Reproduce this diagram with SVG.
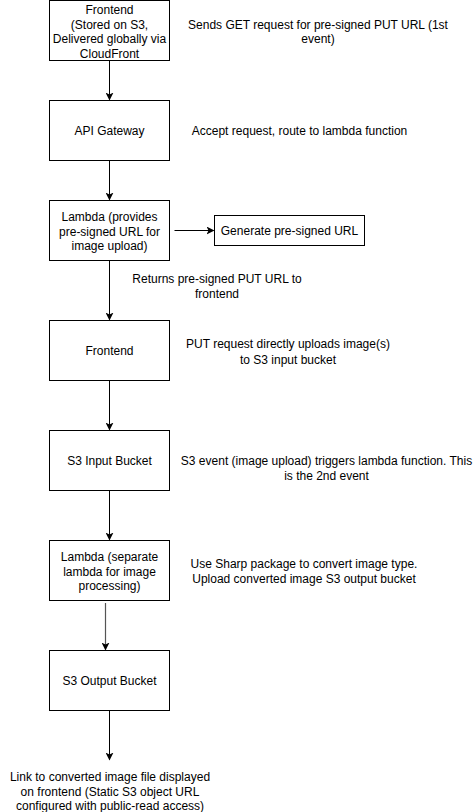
<svg xmlns="http://www.w3.org/2000/svg" width="475" height="812" viewBox="0 0 475 812">
<defs>
<style>
.box{fill:#fff;stroke:#000;stroke-width:1}
text{font-family:"Liberation Sans",Arial,sans-serif;font-size:12px;fill:#000;text-anchor:middle}
.edge{fill:none;stroke:#000;stroke-width:1}
</style>
<marker id="arr" markerWidth="8" markerHeight="8" viewBox="0 0 8 8" refX="7" refY="4" orient="auto" markerUnits="userSpaceOnUse">
<path d="M0,0 L8,4 L0,8 L2,4 Z" fill="#000"/>
</marker>
</defs>
<rect width="475" height="812" fill="#fff"/>
<g id="connectors">
<path class="edge" d="M109.5,60.5 V99.5" marker-end="url(#arr)"/>
<path class="edge" d="M109.5,160.5 V199.5" marker-end="url(#arr)"/>
<path class="edge" d="M174.5,230.5 H213.5" marker-end="url(#arr)"/>
<path class="edge" d="M109.5,260.5 V319.5" marker-end="url(#arr)"/>
<path class="edge" d="M109.5,380.5 V429.5" marker-end="url(#arr)"/>
<path class="edge" d="M109.5,490.5 V539.5" marker-end="url(#arr)"/>
<path class="edge" d="M105.5,603 V649.5" style="stroke:#555;stroke-width:1.2" marker-end="url(#arr)"/>
<path class="edge" d="M109.5,710.5 V759.5" marker-end="url(#arr)"/>
</g>
<g id="frontend1">
<rect class="box" x="49.5" y="0.5" width="120" height="60"/>
<text x="109.5" y="14">Frontend</text>
<text x="109.5" y="28.5">(Stored on S3,</text>
<text x="109.5" y="43">Delivered globally via</text>
<text x="109.5" y="57.5">CloudFront</text>
</g>
<g id="note1">
<text x="318" y="28.5">Sends GET request for pre-signed PUT URL (1st</text>
<text x="318" y="43">event)</text>
</g>
<g id="apigw">
<rect class="box" x="49.5" y="100.5" width="120" height="60"/>
<text x="109.5" y="135">API Gateway</text>
</g>
<g id="note2">
<text x="299.5" y="135">Accept request, route to lambda function</text>
</g>
<g id="lambda1">
<rect class="box" x="49.5" y="200.5" width="120" height="60"/>
<text x="109.5" y="221">Lambda (provides</text>
<text x="109.5" y="235.5">pre-signed URL for</text>
<text x="109.5" y="250">image upload)</text>
</g>
<g id="presign">
<rect class="box" x="214.5" y="215.5" width="150" height="30"/>
<text x="289.5" y="234.5">Generate pre-signed URL</text>
</g>
<g id="note3">
<text x="217" y="282.5">Returns pre-signed PUT URL to</text>
<text x="217" y="298">frontend</text>
</g>
<g id="frontend2">
<rect class="box" x="49.5" y="320.5" width="120" height="60"/>
<text x="109.5" y="355">Frontend</text>
</g>
<g id="note4">
<text x="288" y="348">PUT request directly uploads image(s)</text>
<text x="288" y="363.5">to S3 input bucket</text>
</g>
<g id="s3input">
<rect class="box" x="49.5" y="430.5" width="120" height="60"/>
<text x="109.5" y="465">S3 Input Bucket</text>
</g>
<g id="note5">
<text x="326.5" y="465">S3 event (image upload) triggers lambda function. This</text>
<text x="326.5" y="480">is the 2nd event</text>
</g>
<g id="lambda2">
<rect class="box" x="49.5" y="540.5" width="120" height="60"/>
<text x="109.5" y="561">Lambda (separate</text>
<text x="109.5" y="575.5">lambda for image</text>
<text x="109.5" y="590">processing)</text>
</g>
<g id="note6">
<text x="304" y="568">Use Sharp package to convert image type.</text>
<text x="304" y="583">Upload converted image S3 output bucket</text>
</g>
<g id="s3output">
<rect class="box" x="49.5" y="650.5" width="120" height="60"/>
<text x="109.5" y="685">S3 Output Bucket</text>
</g>
<g id="result">
<text x="110" y="781">Link to converted image file displayed</text>
<text x="110" y="795.5">on frontend (Static S3 object URL</text>
<text x="110" y="810">configured with public-read access)</text>
</g>
</svg>
